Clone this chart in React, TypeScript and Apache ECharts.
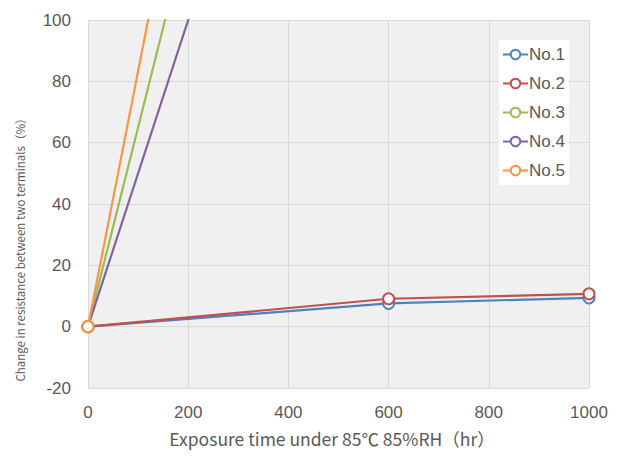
import React, { useEffect, useRef } from "react";
import * as echarts from "echarts";

const seriesNames = ["No.1", "No.2", "No.3", "No.4", "No.5"];
const colors = ["#4F81BD", "#C0504D", "#9BBB59", "#8064A2", "#F79646"];
const hours1 = [0, 600, 1000];
const no1 = [0, 7.6, 9.4];
const no2 = [0, 9.1, 10.7];
const hours2 = [0, 600];
const no3 = [0, 390];
const no4 = [0, 300];
const no5 = [0, 500];
const xTicks = [0, 200, 400, 600, 800, 1000];
const yMin = -20;
const yMax = 100;

const seriesData = [
  hours1.map((h, i) => [h, no1[i]]),
  hours1.map((h, i) => [h, no2[i]]),
  hours2.map((h, i) => [h, no3[i]]),
  hours2.map((h, i) => [h, no4[i]]),
  hours2.map((h, i) => [h, no5[i]]),
];

export default function App() {
  const ref = useRef<HTMLDivElement>(null);
  useEffect(() => {
    if (!ref.current) return;
    const chart = echarts.init(ref.current, null, { renderer: "svg" });
    const labelFont = "'Liberation Sans', Arial, sans-serif";
    const titleFont = "'Noto Sans CJK JP', 'Noto Sans', sans-serif";
    chart.setOption({
      animation: false,
      backgroundColor: "#ffffff",
      grid: {
        left: 88,
        right: 30,
        top: 20,
        bottom: 72,
        show: true,
        backgroundColor: "#f0f0f0",
        borderWidth: 0,
      },
      legend: {
        orient: "vertical",
        left: 499,
        top: 40,
        backgroundColor: "#ffffff",
        padding: [6, 4, 6, 3],
        itemWidth: 25,
        itemHeight: 12,
        itemGap: 12,
        data: seriesNames,
        textStyle: { fontSize: 17, color: "#595959", fontFamily: labelFont, padding: [0, 0, 0, -4] },
      },
      xAxis: {
        type: "value",
        min: xTicks[0],
        max: xTicks[xTicks.length - 1],
        interval: 200,
        axisLine: { show: false },
        axisTick: { show: false },
        axisLabel: {
          fontSize: 17,
          color: "#595959",
          margin: 16,
          fontFamily: labelFont,
          formatter: (v: number) => String(v),
        },
        splitLine: { show: true, lineStyle: { color: "#d9d9d9", width: 1 } },
      },
      yAxis: {
        type: "value",
        min: yMin,
        max: yMax,
        interval: 20,
        axisLine: { show: false },
        axisTick: { show: false },
        axisLabel: { fontSize: 17, color: "#595959", margin: 17, fontFamily: labelFont },
        splitLine: { show: true, lineStyle: { color: "#d9d9d9", width: 1 } },
      },
      graphic: [
        {
          type: "text",
          x: 20,
          y: 247,
          rotation: Math.PI / 2,
          style: {
            text: "Change in resistance between two terminals（%）",
            fontSize: 11.5,
            fill: "#595959",
            fontFamily: titleFont,
            align: "center",
            verticalAlign: "middle",
          },
        },
        {
          type: "text",
          x: 332,
          y: 438,
          style: {
            text: "Exposure time under 85℃ 85%RH（hr）",
            fontSize: 17.5,
            fill: "#595959",
            fontFamily: titleFont,
            align: "center",
            verticalAlign: "middle",
          },
        },
      ],
      series: seriesNames.map((name, i) => ({
        name,
        type: "line",
        data: seriesData[i],
        clip: true,
        symbol: "emptyCircle",
        symbolSize: 11,
        color: colors[i],
        lineStyle: { width: 2.2, color: colors[i] },
        itemStyle: { color: colors[i], borderColor: colors[i], borderWidth: 2.5 },
        z: 2 + i,
      })),
    });
    return () => chart.dispose();
  }, []);
  return (
    <div
      ref={ref}
      style={{ position: "fixed", left: 0, top: 0, width: 619, height: 460 }}
    />
  );
}
